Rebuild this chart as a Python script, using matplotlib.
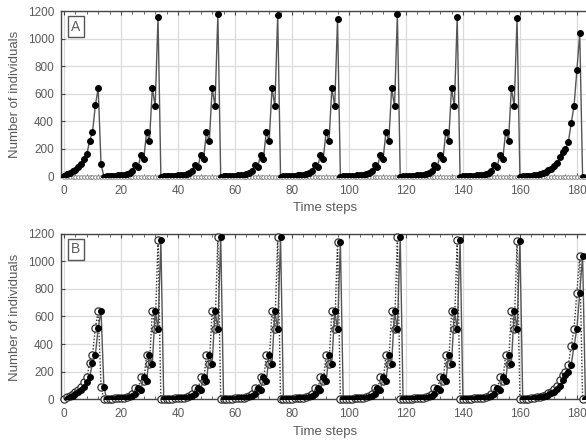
import matplotlib
matplotlib.use("Agg")
import matplotlib.pyplot as plt
from matplotlib.ticker import MultipleLocator
import numpy as np

# ---------------- data ----------------
cycle1 = [5, 15, 25, 38, 50, 68, 88, 125, 160, 260, 320, 515, 640, 90, 0]          # t 0..14
cycle2 = [3, 4, 5, 6, 8, 10, 13, 17, 24, 40, 80, 68, 158, 130, 323, 257, 640, 510, 1155, 0]  # t 15..34
cycle3 = [2, 3, 4, 5, 6, 8, 10, 13, 17, 24, 40, 80, 68, 158, 130, 323, 257, 640, 510, 1178, 0]  # t 35..55
cycle4 = [2, 3, 4, 5, 6, 8, 10, 13, 17, 24, 40, 80, 68, 158, 130, 323, 257, 640, 510, 1173, 0]  # t 56..76
cycle5 = [2, 3, 4, 5, 6, 8, 10, 13, 17, 24, 40, 80, 68, 158, 130, 323, 257, 640, 510, 1141, 0]  # t 77..97
cycle6 = [2, 3, 4, 5, 6, 8, 10, 13, 17, 24, 40, 80, 68, 158, 130, 323, 257, 640, 510, 1175, 0]  # t 98..118
cycle7 = [2, 3, 4, 5, 6, 8, 10, 13, 17, 24, 40, 80, 68, 158, 130, 323, 257, 640, 510, 1154, 0]  # t 119..139
cycle8 = [2, 3, 4, 5, 6, 8, 10, 13, 17, 24, 40, 80, 68, 158, 130, 323, 257, 640, 510, 1149, 0]  # t 140..160
cycle9 = [2, 3, 5, 7, 10, 14, 19, 25, 32, 44, 56, 75, 97, 141, 178, 200, 251, 385, 512, 770, 1040, 0]  # t 161..182

series_a = cycle1 + cycle2 + cycle3 + cycle4 + cycle5 + cycle6 + cycle7 + cycle8 + cycle9
steps_a = list(range(len(series_a)))
other_a = [0] * 184                     # second type, absent in panel A
steps_other = list(range(184))

series_b_open = series_a                # panel B, open circles (dotted)
series_b_filled = series_a              # panel B, filled circles (solid), one step later
steps_b_open = steps_a
steps_b_filled = [t + 1 for t in steps_a]

x_ticks = [0, 20, 40, 60, 80, 100, 120, 140, 160, 180]
y_ticks = [0, 200, 400, 600, 800, 1000, 1200]
panel_labels = ["A", "B"]

# ---------------- style ----------------
W, H = 586, 441
fig = plt.figure(figsize=(W / 100, H / 100), dpi=100)
plt.rcParams['font.family'] = ['Liberation Sans', 'DejaVu Sans']
txt = '#5a5a5a'
spine_c = '#454545'
line_c = '#555555'

def px_axes(left, top, right, bottom):
    return fig.add_axes([left / W, 1 - bottom / H, (right - left) / W, (bottom - top) / H])

ax_a = px_axes(61, 11, 588, 176.5)
ax_b = px_axes(61, 233.5, 588, 399.3)

for ax in (ax_a, ax_b):
    ax.set_xlim(-1.05, 183.9)
    ax.set_ylim(0, 1200)
    ax.set_xticks(x_ticks)
    ax.set_yticks(y_ticks)
    ax.xaxis.set_minor_locator(MultipleLocator(4))
    ax.grid(True, which='major', color='#dadada', linewidth=0.9)
    ax.set_axisbelow(True)
    ax.tick_params(axis='both', which='both', direction='in', colors=spine_c,
                   labelcolor=txt, labelsize=8.5, top=True)
    ax.tick_params(axis='x', which='major', length=3, pad=6)
    ax.tick_params(axis='x', which='minor', length=2)
    ax.tick_params(axis='y', which='major', length=3, pad=5)
    for s in ax.spines.values():
        s.set_color(spine_c)
        s.set_linewidth(1.0)

# panel A
ax_a.plot(steps_other, other_a, linestyle=':', color='#777777', linewidth=0.8,
          marker='o', markersize=2.6, markerfacecolor='white', markeredgecolor='#777777',
          markeredgewidth=0.6, clip_on=False, zorder=3)
ax_a.plot(steps_a, series_a, '-', color=line_c, linewidth=1.0,
          marker='o', markersize=4, markerfacecolor='black', markeredgecolor='black',
          zorder=4)

# panel B
ax_b.plot(steps_b_open, series_b_open, linestyle=(0, (1, 1.3)), color='#333333', linewidth=1.0,
          marker='o', markersize=5.2, markerfacecolor='white', markeredgecolor='#333333',
          markeredgewidth=0.9, zorder=3, clip_on=False)
ax_b.plot(steps_b_filled, series_b_filled, '-', color=line_c, linewidth=1.0,
          marker='o', markersize=4, markerfacecolor='black', markeredgecolor='black',
          zorder=4)

# labels
for yc in (94, 317):
    fig.text(15 / W, 1 - yc / H, 'Number of individuals', rotation=90,
             ha='center', va='center', fontsize=9.5, color=txt)
for yc in (208, 432):
    fig.text(325 / W, 1 - yc / H, 'Time steps', ha='center', va='center',
             fontsize=9.5, color=txt)

for ax, lab in zip((ax_a, ax_b), panel_labels):
    ax.text(0.028, 0.905, lab, transform=ax.transAxes, ha='center', va='center',
            fontsize=10, color=txt,
            bbox=dict(boxstyle='square,pad=0.25', facecolor='white',
                      edgecolor='#555555', linewidth=1.0))

fig.savefig('out.png', dpi=100)
